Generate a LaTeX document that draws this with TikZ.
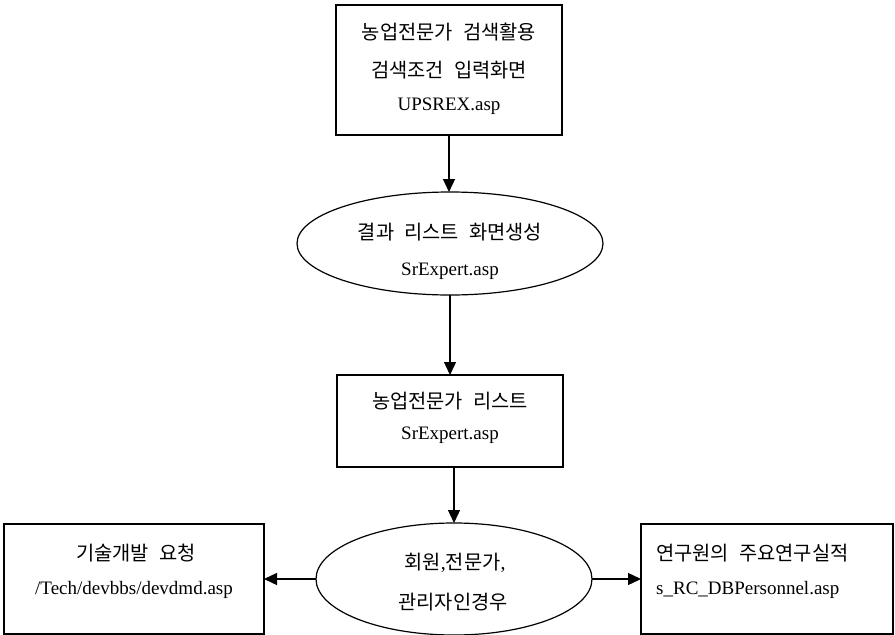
\documentclass[tikz,border=0pt]{standalone}
\usepackage{fontspec}
\setmainfont{Liberation Serif}
\newfontfamily\kr[WordSpace=2.3]{Noto Sans CJK KR}
\usetikzlibrary{shapes.geometric,arrows.meta}
\begin{document}
\begin{tikzpicture}[x=1pt,y=-1pt,
  boxstyle/.style={draw,line width=1.4pt,rectangle,inner sep=0pt,outer sep=0pt},
  ellstyle/.style={draw,line width=1.2pt,ellipse,inner sep=0pt,outer sep=0pt},
  krtext/.style={font=\kr\fontsize{19.8}{22}\selectfont,inner sep=0pt},
  entext/.style={font=\fontsize{19}{22}\selectfont,inner sep=0pt},
  arr/.style={line width=1.3pt,-{Triangle[length=13pt,width=12pt]}}]
\useasboundingbox (0,0) rectangle (895,635);
% top box
\node[boxstyle,minimum width=226pt,minimum height=130pt] (b1) at (449,70) {};
\node[krtext] (t1a) at (449,32) {농업전문가 검색활용};
\node[krtext] (t1b) at (449,70) {검색조건 입력화면};
\node[entext] (t1c) at (449,106) {UPSREX.asp};
% ellipse 1
\node[ellstyle,minimum width=306pt,minimum height=103pt] (e1) at (450,243.5) {};
\node[krtext] (t2a) at (450,232) {결과 리스트 화면생성};
\node[entext] (t2b) at (450,271) {SrExpert.asp};
% box 2
\node[boxstyle,minimum width=226pt,minimum height=92pt] (b2) at (450,421) {};
\node[krtext] (t3a) at (450,401) {농업전문가 리스트};
\node[entext] (t3b) at (450,435) {SrExpert.asp};
% ellipse 2
\node[ellstyle,minimum width=276pt,minimum height=112pt] (e2) at (454,579) {};
\node[krtext] (t4a) at (455,563) {회원{\rmfamily,}전문가{\rmfamily,}};
\node[krtext] (t4b) at (453,602) {관리자인경우};
% left box
\node[boxstyle,minimum width=260pt,minimum height=110pt] (b3) at (134,579) {};
\node[krtext] (t5a) at (136,553) {기술개발 요청};
\node[entext] (t5b) at (134,590) {/Tech/devbbs/devdmd.asp};
% right box
\node[boxstyle,minimum width=252pt,minimum height=110pt] (b4) at (767,579) {};
\node[krtext,anchor=west] (t6a) at (656,553) {연구원의 주요연구실적};
\node[entext,anchor=west] (t6b) at (656,590) {s\_RC\_DBPersonnel.asp};
% arrows
\draw[arr] (b1.south) -- (b1.south |- e1.north);
\draw[arr] (e1.south) -- (e1.south |- b2.north);
\draw[arr] (b2.south -| e2.north) -- (e2.north);
\draw[arr] (e2.west) -- (b3.east |- e2.west);
\draw[arr] (e2.east) -- (b4.west |- e2.east);
\end{tikzpicture}
\end{document}
